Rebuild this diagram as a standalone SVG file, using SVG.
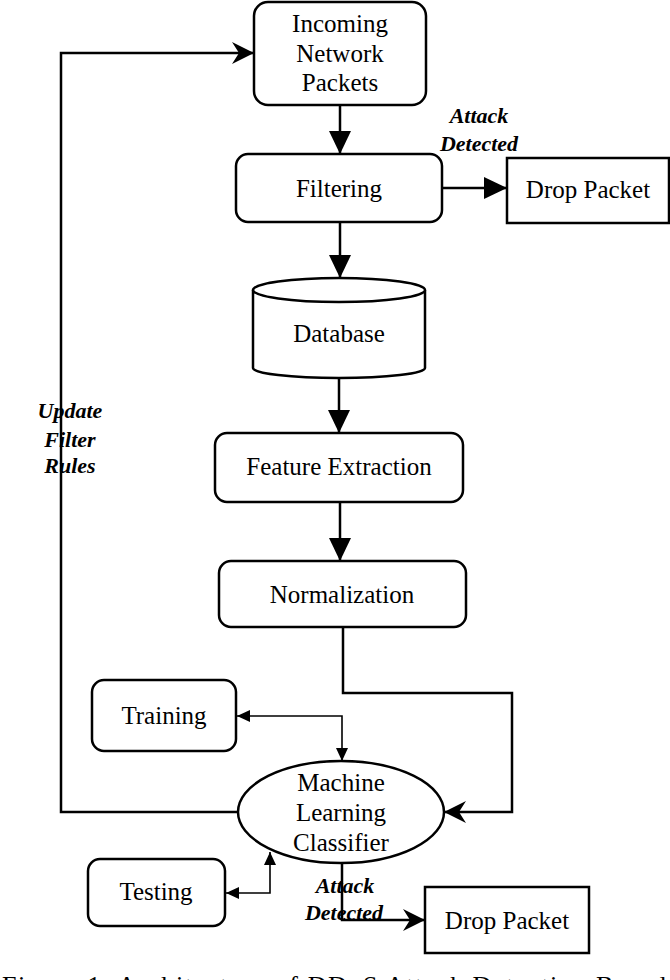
<svg xmlns="http://www.w3.org/2000/svg" width="670" height="980" viewBox="0 0 670 980">
<style>
.box{fill:#fff;stroke:#000;stroke-width:2.5}
.t{font-family:'Liberation Serif',serif;font-size:25px;fill:#000;text-anchor:middle}
.lbl{font-family:'Liberation Serif',serif;font-size:22px;font-weight:bold;font-style:italic;fill:#000;text-anchor:middle}
.c{fill:none;stroke:#000;stroke-width:2.5}
.cs{fill:none;stroke:#000;stroke-width:1.6}
.cap{font-family:'Liberation Serif',serif;font-size:26px;fill:#000}
</style>
<defs>
<marker id="big" viewBox="0 0 23 22" refX="23" refY="11" markerWidth="23" markerHeight="22" markerUnits="userSpaceOnUse" orient="auto"><path d="M0,0 L23,11 L0,22 Z" fill="#000"/></marker>
<marker id="barb" viewBox="0 0 22 22" refX="22" refY="11" markerWidth="22" markerHeight="22" markerUnits="userSpaceOnUse" orient="auto"><path d="M0,0 L22,11 L0,22 L7,11 Z" fill="#000"/></marker>
<marker id="small" viewBox="0 0 13 12" refX="13" refY="6" markerWidth="13" markerHeight="12" markerUnits="userSpaceOnUse" orient="auto-start-reverse"><path d="M0,0 L13,6 L0,12 Z" fill="#000"/></marker>
</defs>
<g id="connectors">
<path class="c" d="M340,105 V154" marker-end="url(#big)"/>
<path class="c" d="M442,188 H507" marker-end="url(#big)"/>
<path class="c" d="M340,222 V278" marker-end="url(#big)"/>
<path class="c" d="M339,378 V433" marker-end="url(#big)"/>
<path class="c" d="M340,502 V561" marker-end="url(#big)"/>
<path class="c" d="M343,627 V693 H512 V812 H444" marker-end="url(#barb)"/>
<path class="c" d="M239,812 H61 V53 H254" marker-end="url(#barb)"/>
<path class="cs" d="M237,716 H342 V761" marker-start="url(#small)" marker-end="url(#small)"/>
<path class="cs" d="M226,893 H270 V852" marker-start="url(#small)" marker-end="url(#small)"/>
<path class="c" d="M342,864 V920 H425" marker-end="url(#barb)"/>
</g>
<g id="incoming"><rect class="box" x="254" y="2" width="172" height="103" rx="14"/>
<text class="t" x="340" y="32">Incoming</text><text class="t" x="340" y="62">Network</text><text class="t" x="340" y="91">Packets</text></g>
<g id="filtering"><rect class="box" x="236" y="154" width="206" height="68" rx="12"/><text class="t" x="339" y="197">Filtering</text></g>
<g id="drop1"><rect class="box" x="507" y="158" width="162" height="65"/><text class="t" x="588" y="198">Drop Packet</text></g>
<g id="database"><path class="box" d="M253,290 A86,12 0 0 1 425,290 V368 A86,10 0 0 1 253,368 Z"/><path class="box" d="M253,290 A86,12 0 0 0 425,290" fill="none"/><text class="t" x="339" y="342">Database</text></g>
<g id="feature"><rect class="box" x="215" y="433" width="248" height="69" rx="12"/><text class="t" x="339" y="475">Feature Extraction</text></g>
<g id="normalization"><rect class="box" x="219" y="561" width="247" height="66" rx="12"/><text class="t" x="342" y="603">Normalization</text></g>
<g id="training"><rect class="box" x="92" y="680" width="144" height="71" rx="12"/><text class="t" x="164" y="724">Training</text></g>
<g id="classifier"><ellipse class="box" cx="341" cy="812" rx="103" ry="51"/>
<text class="t" x="341" y="791">Machine</text><text class="t" x="341" y="821">Learning</text><text class="t" x="341" y="851">Classifier</text></g>
<g id="testing"><rect class="box" x="88" y="859" width="137" height="67" rx="12"/><text class="t" x="156" y="900">Testing</text></g>
<g id="drop2"><rect class="box" x="425" y="887" width="164" height="66"/><text class="t" x="507" y="929">Drop Packet</text></g>
<g id="labels">
<text class="lbl" x="479" y="123">Attack</text><text class="lbl" x="479" y="151">Detected</text>
<text class="lbl" x="70" y="418">Update</text><text class="lbl" x="70" y="447">Filter</text><text class="lbl" x="70" y="473">Rules</text>
<text class="lbl" x="345" y="893">Attack</text><text class="lbl" x="344" y="920">Detected</text>
</g>
<text class="cap" x="2" y="994" textLength="664" lengthAdjust="spacing">Figure 1: Architecture of DDoS Attack Detection Based</text>
</svg>
